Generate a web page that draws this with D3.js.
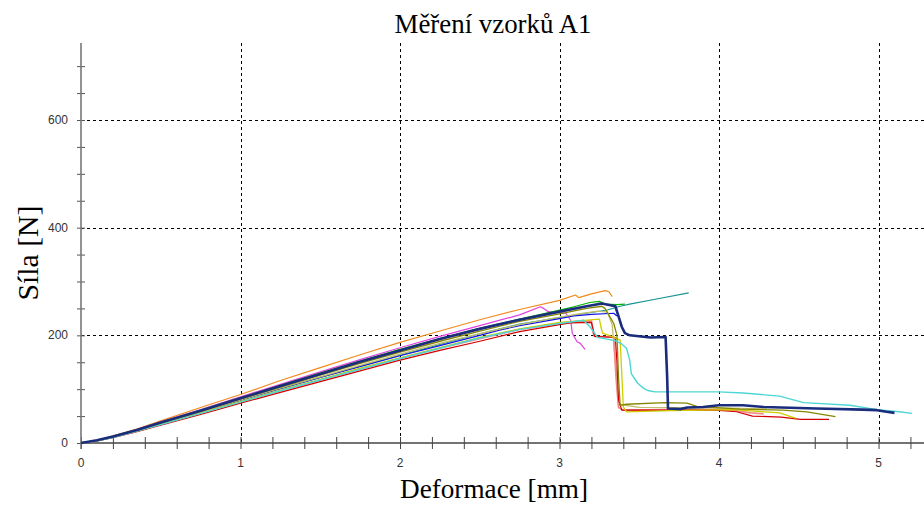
<!DOCTYPE html>
<html>
<head>
<meta charset="utf-8">
<script src="https://cdn.jsdelivr.net/npm/d3@7"></script>
<style>
  html, body { margin: 0; padding: 0; background: #fff; }
  svg { display: block; }
</style>
</head>
<body>
<svg id="chart" width="924" height="505"></svg>
<script>
// Force–deformation curves of the A1 specimens: [deformation mm, force N]
const orange = [[0,0],[0.1,5],[0.2,13],[0.35,26],[0.5,41],[0.75,66],[1,90],[1.25,116],[1.5,140],[1.75,164],[2,187],[2.25,208],[2.5,229],[2.75,248],[3,265],[3.1,275],[3.12,270],[3.2,277],[3.285,283],[3.31,281],[3.33,272]];
const magenta = [[0,0],[0.1,5],[0.2,12],[0.35,25],[0.5,39],[0.75,62],[1,86],[1.25,109],[1.5,132],[1.75,155],[2,177],[2.25,198],[2.5,218],[2.75,238],[2.88,253],[2.9,250],[2.93,244],[3.04,241],[3.07,228],[3.08,204],[3.11,188],[3.13,185],[3.16,174]];
const green = [[0,0],[0.1,5],[0.2,12],[0.35,24],[0.5,38],[0.75,61],[1,84],[1.25,107],[1.5,130],[1.75,152],[2,174],[2.25,194],[2.5,213],[2.75,230],[2.96,244],[3.09,253],[3.19,261],[3.25,263],[3.285,258],[3.36,257],[3.41,258]];
const teal = [[0,0],[0.1,4],[0.2,11],[0.35,23],[0.5,36],[0.75,58],[1,80],[1.25,101],[1.5,122],[1.75,143],[2,163],[2.25,183],[2.5,203],[2.75,221],[3,233],[3.17,241],[3.3,247],[3.38,254],[3.44,258],[3.6,267],[3.81,279]];
const blue = [[0,0],[0.1,5],[0.2,11],[0.35,23],[0.5,36],[0.75,57],[1,79],[1.25,101],[1.5,122],[1.75,142],[2,162],[2.25,181],[2.5,200],[2.63,210],[2.75,218],[3,231],[3.09,236],[3.2,239],[3.34,241],[3.36,236]];
const red = [[0,0],[0.1,4],[0.2,10],[0.35,21],[0.5,33],[0.75,53],[1,74],[1.25,94],[1.5,114],[1.75,134],[2,154],[2.25,172],[2.5,189],[2.75,207],[3,220],[3.07,223],[3.2,224],[3.21,212],[3.22,198],[3.35,196],[3.36,150],[3.37,80],[3.39,61],[3.6,61],[3.98,61],[4.11,58],[4.21,50],[4.39,48],[4.51,44],[4.69,44]];
const salmon = [[0,0],[0.1,4],[0.2,11],[0.35,22],[0.5,35],[0.75,55],[1,76],[1.25,97],[1.5,117],[1.75,137],[2,157],[2.25,176],[2.5,194],[2.75,211],[3,222],[3.1,225],[3.2,227],[3.21,205],[3.22,198],[3.34,197],[3.355,120],[3.37,66],[3.4,61],[3.7,62],[4,62],[4.1,60],[4.2,56],[4.28,54]];
const yellow = [[0,0],[0.1,4],[0.2,11],[0.35,22],[0.5,35],[0.75,56],[1,77],[1.25,98],[1.5,118],[1.75,139],[2,158],[2.25,177],[2.5,196],[2.75,212],[3,224],[3.25,230],[3.26,215],[3.27,204],[3.31,200],[3.38,191],[3.39,130],[3.4,67],[3.42,58],[3.7,60],[4.09,62],[4.38,56],[4.44,50],[4.48,46]];
const olive = [[0,0],[0.1,5],[0.2,12],[0.35,24],[0.5,37],[0.75,59],[1,82],[1.25,104],[1.5,126],[1.75,148],[2,169],[2.25,189],[2.5,208],[2.75,226],[3,240],[3.17,250],[3.265,254],[3.285,250],[3.34,222],[3.36,200],[3.37,120],[3.38,70],[3.42,72],[3.66,75],[3.8,74],[3.86,68],[4.13,63],[4.4,61],[4.55,58],[4.73,49]];
const khaki = [[0,0],[0.1,4],[0.2,11],[0.35,23],[0.5,36],[0.75,58],[1,80],[1.25,102],[1.5,123],[1.75,144],[2,165],[2.25,185],[2.5,203],[2.75,220],[3,234],[3.15,241],[3.24,245],[3.3,243],[3.33,220],[3.35,150],[3.37,72],[3.5,66],[4,65],[4.3,63]];
const cyan = [[0,0],[0.1,4],[0.2,10],[0.35,22],[0.5,34],[0.75,55],[1,76],[1.25,97],[1.5,117],[1.75,137],[2,157],[2.25,176],[2.5,195],[2.75,211],[3,222],[3.15,228],[3.19,216],[3.22,204],[3.24,196],[3.3,193],[3.35,190],[3.39,184],[3.42,176],[3.44,154],[3.45,129],[3.49,111],[3.53,101],[3.56,97],[3.6,95],[4,95],[4.15,93],[4.38,87],[4.53,75],[4.82,70],[4.99,62],[5.13,58],[5.21,55]];
const navy = [[0,0],[0.1,5],[0.2,12],[0.35,24],[0.5,38],[0.75,60],[1,83],[1.25,106],[1.5,128],[1.75,151],[2,172],[2.25,193],[2.5,212],[2.75,229],[3,244],[3.17,254],[3.265,259],[3.32,256],[3.35,254],[3.37,235],[3.39,216],[3.41,204],[3.44,200],[3.57,196],[3.665,197],[3.675,120],[3.68,64],[3.76,63],[3.8,66],[3.9,67],[4,70],[4.15,70],[4.28,67],[4.61,64],[4.9,62],[4.99,61],[5.05,58],[5.1,56]];

// Drawing order (last is on top) and colours
const seriesList = [orange, magenta, green, teal, blue, khaki, salmon, red, yellow, olive, cyan, navy];
const seriesColors = ["#F28A1E", "#E040E0", "#00B400", "#169494", "#1414E6", "#BEBE6E", "#F08C8C", "#D40000", "#CFCF00", "#868600", "#4ED6D6", "#1A2C7C"];
const seriesWidths = [1.2, 1.2, 1.2, 1.2, 1.2, 1.3, 1.8, 1.2, 1.3, 1.3, 1.4, 2.6];

const xTickLabels = [0, 1, 2, 3, 4, 5];
const yTickLabels = [0, 200, 400, 600];
const xMinorTicks = d3.range(0, 5.3, 0.2);
const yMinorTicks = d3.range(0, 750, 50);

const titleText = "Měření vzorků A1";
const xTitle = "Deformace [mm]";
const yTitle = "Síla [N]";

const svg = d3.select("#chart");
const x = d3.scaleLinear().domain([0, 5.285]).range([81, 924]);
const y = d3.scaleLinear().domain([0, 743]).range([443, 43]);

// dashed grid
const grid = svg.append("g").attr("stroke", "#000").attr("stroke-width", 1).attr("stroke-dasharray", "3,3");
grid.selectAll("line.v").data(xTickLabels.filter(d => d > 0)).join("line")
  .attr("x1", d => Math.round(x(d)) + 0.5).attr("x2", d => Math.round(x(d)) + 0.5)
  .attr("y1", y(743)).attr("y2", y(0));
grid.selectAll("line.h").data(yTickLabels.filter(d => d > 0)).join("line")
  .attr("y1", d => Math.round(y(d)) + 0.5).attr("y2", d => Math.round(y(d)) + 0.5)
  .attr("x1", x(0)).attr("x2", 924);

// axes
const xAxis = d3.axisBottom(x).tickValues(xMinorTicks).tickSize(12).tickFormat("");
const gx = svg.append("g").attr("transform", `translate(0,${y(0) - 6})`).call(xAxis);
gx.select(".domain").remove();
gx.selectAll(".tick line").attr("stroke", "#444").attr("stroke-width", 1);
svg.append("line").attr("x1", x(0)).attr("x2", 924).attr("y1", y(0)).attr("y2", y(0))
  .attr("stroke", "#444").attr("stroke-width", 1.6);

const yAxis = d3.axisLeft(y).tickValues(yMinorTicks).tickSize(8).tickFormat("");
const gy = svg.append("g").attr("transform", `translate(${x(0) + 4},0)`).call(yAxis);
gy.select(".domain").remove();
gy.selectAll(".tick line").attr("stroke", "#555").attr("stroke-width", 1);
svg.append("line").attr("x1", x(0)).attr("x2", x(0)).attr("y1", y(743)).attr("y2", y(0) + 6)
  .attr("stroke", "#777").attr("stroke-width", 1.6);

// tick labels
const tickFont = "'Liberation Sans Narrow', 'Arial Narrow', 'Liberation Sans', sans-serif";
svg.append("g").selectAll("text").data(xTickLabels).join("text")
  .attr("x", d => x(d)).attr("y", 467)
  .attr("text-anchor", "middle").attr("font-family", tickFont).attr("font-size", 12).attr("fill", "#333")
  .text(d => d);
svg.append("g").selectAll("text").data(yTickLabels).join("text")
  .attr("x", 68).attr("y", d => y(d) + 4)
  .attr("text-anchor", "end").attr("font-family", tickFont).attr("font-size", 12).attr("fill", "#333")
  .text(d => d);

// curves
const line = d3.line().x(d => x(d[0])).y(d => y(d[1]));
svg.append("g").attr("fill", "none").attr("stroke-linejoin", "round")
  .selectAll("path").data(seriesList).join("path")
  .attr("d", line)
  .attr("stroke", (d, i) => seriesColors[i])
  .attr("stroke-width", (d, i) => seriesWidths[i]);

// titles (slightly condensed serif)
const serif = "'Liberation Serif', 'Times New Roman', serif";
svg.append("text").attr("x", 493).attr("y", 33).attr("text-anchor", "middle")
  .attr("font-family", serif).attr("font-size", 27).attr("fill", "#000")
  .attr("textLength", 197).attr("lengthAdjust", "spacingAndGlyphs").text(titleText);
svg.append("text").attr("x", 494).attr("y", 498).attr("text-anchor", "middle")
  .attr("font-family", serif).attr("font-size", 28).attr("fill", "#000")
  .attr("textLength", 188).attr("lengthAdjust", "spacingAndGlyphs").text(xTitle);
svg.append("text").attr("transform", "translate(38,253) rotate(-90)").attr("text-anchor", "middle")
  .attr("font-family", serif).attr("font-size", 29).attr("fill", "#000")
  .attr("textLength", 95).attr("lengthAdjust", "spacingAndGlyphs").text(yTitle);
</script>
</body>
</html>
